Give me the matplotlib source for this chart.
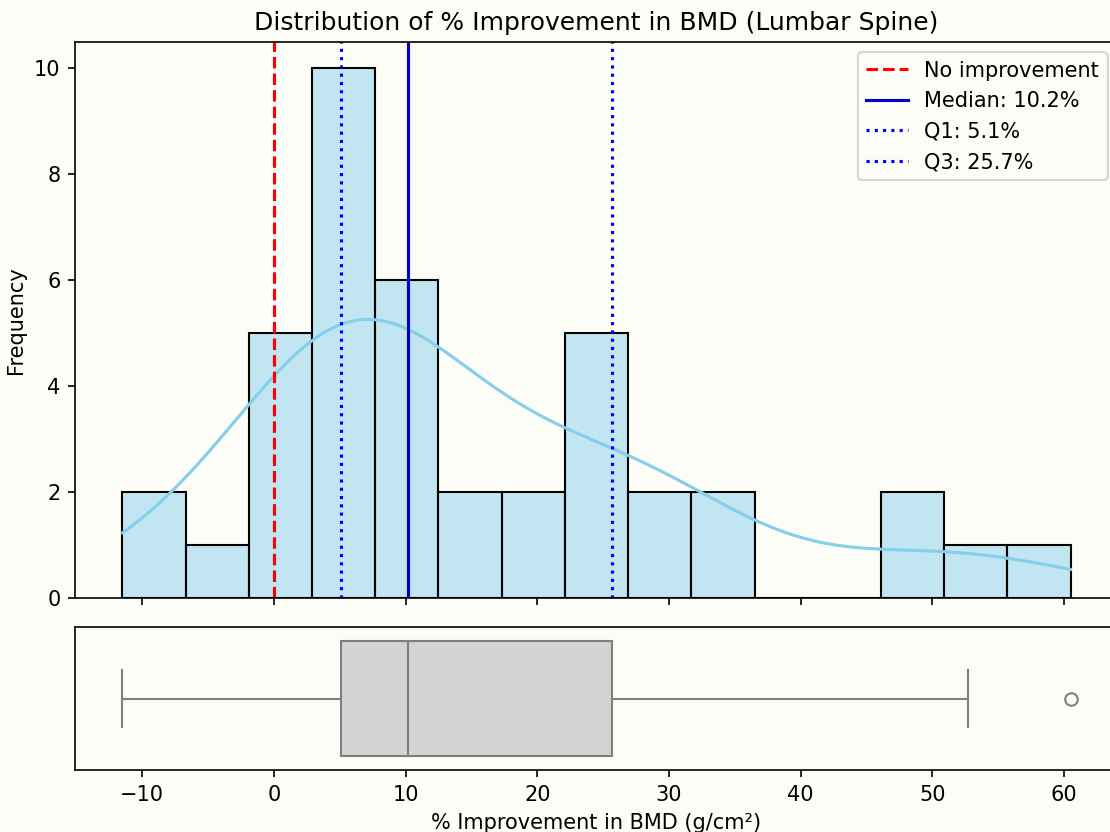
import numpy as np
import matplotlib
matplotlib.use("Agg")
import matplotlib.pyplot as plt
import seaborn as sns

# % improvement in lumbar spine BMD, one value per patient
improvement = [
  -11.5, -8.0,
  -4.0,
  -1.0, 0.3, 1.2, 2.0, 2.6,
  3.2, 3.8, 5.1, 5.5, 6.0, 6.3, 6.8, 7.0, 7.3, 7.5,
  8.2, 9.0, 10.2, 11.0, 11.8, 12.3,
  14.0, 16.0,
  18.5, 21.0,
  22.8, 24.0, 25.7, 26.2, 26.6,
  28.0, 30.5,
  33.0, 35.0,
  47.0, 49.5,
  52.7,
  60.5,
]

data = np.array(improvement)
median = np.median(data)
q1 = np.percentile(data, 25)
q3 = np.percentile(data, 75)

bg = "#fdfdf8"
plt.rcParams["figure.facecolor"] = bg
plt.rcParams["axes.facecolor"] = bg
plt.rcParams["savefig.facecolor"] = bg

fig = plt.figure(figsize=(7.4, 832 / 150), dpi=150)
ax1 = fig.add_axes([0.0676, 0.2812, 0.9396, 0.6683])
ax2 = fig.add_axes([0.0676, 0.0745, 0.9396, 0.1719], sharex=ax1)

# histogram + kde
sns.histplot(data, bins=15, kde=True, color="skyblue", edgecolor="black", ax=ax1)
ax1.axvline(0, color="red", linestyle="--", linewidth=1.5, label="No improvement")
ax1.axvline(median, color="mediumblue", linestyle="-", linewidth=1.5,
            label=f"Median: {median:.1f}%")
ax1.axvline(q1, color="blue", linestyle=":", linewidth=1.5, label=f"Q1: {q1:.1f}%")
ax1.axvline(q3, color="blue", linestyle=":", linewidth=1.5, label=f"Q3: {q3:.1f}%")
ax1.set_title("Distribution of % Improvement in BMD (Lumbar Spine)")
ax1.set_ylabel("Frequency")
ax1.set_xlabel("")
ax1.tick_params(labelbottom=False)
ax1.legend(loc="upper right")

# box plot underneath
sns.boxplot(x=data, color="lightgray", ax=ax2)
ax2.set_xlabel("% Improvement in BMD (g/cm²)")
ax2.set_yticks([])

plt.savefig("out.png", dpi=150)
plt.close()
